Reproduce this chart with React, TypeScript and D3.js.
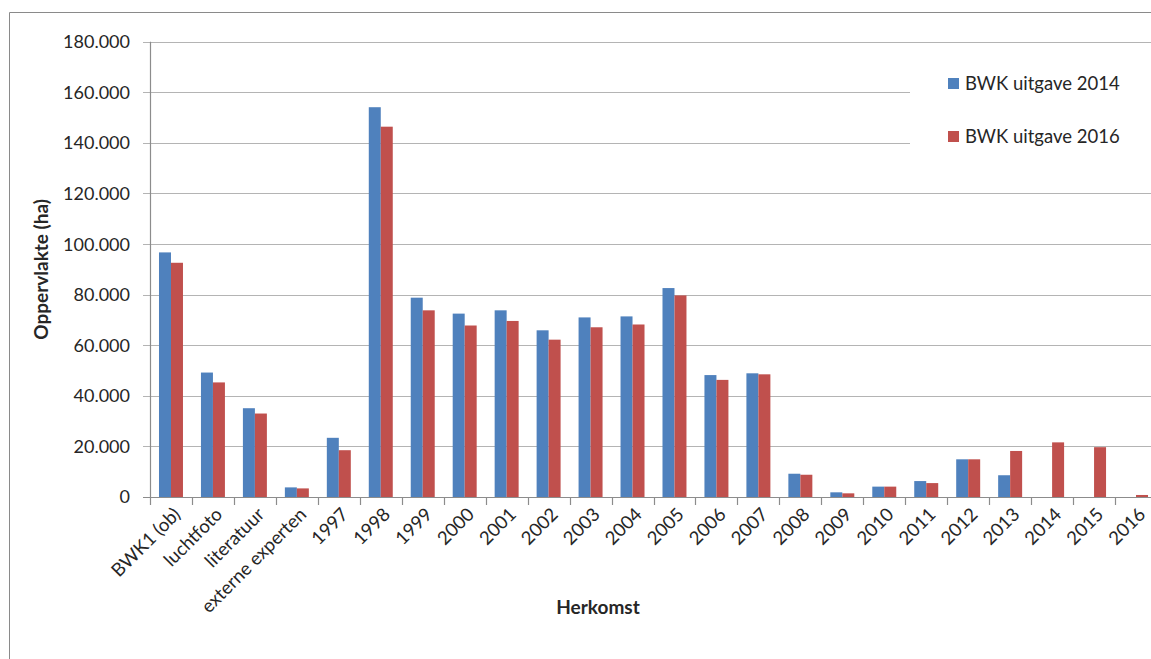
import React, { useEffect, useRef } from 'react';
import * as d3 from 'd3';

// Herkomst categories
const categories = [
  'BWK1 (ob)', 'luchtfoto', 'literatuur', 'externe experten',
  '1997', '1998', '1999', '2000', '2001', '2002', '2003', '2004', '2005',
  '2006', '2007', '2008', '2009', '2010', '2011', '2012', '2013', '2014', '2015', '2016'
];

// Oppervlakte (ha)
const values2014 = [
  96700, 49200, 35100, 3800,
  23400, 154100, 78800, 72500, 73800, 65900, 71000, 71400, 82600,
  48200, 48900, 9200, 1850, 4100, 6300, 14900, 8600, 0, 0, 0
];
const values2016 = [
  92600, 45300, 33000, 3400,
  18500, 146400, 73800, 67800, 69600, 62200, 67100, 68200, 79700,
  46300, 48500, 8800, 1450, 4100, 5500, 14900, 18200, 21600, 19700, 800
];

const seriesNames = ['BWK uitgave 2014', 'BWK uitgave 2016'];
const seriesColors = ['#4F81BD', '#C0504D'];
const yTicks = [0, 20000, 40000, 60000, 80000, 100000, 120000, 140000, 160000, 180000];

const W = 1151;
const H = 659;
const FONT = 'Lato, "Open Sans", sans-serif';

const App: React.FC = () => {
  const svgRef = useRef<SVGSVGElement>(null);

  useEffect(() => {
    if (!svgRef.current) return;
    const svg = d3.select(svgRef.current);
    svg.selectAll('*').remove();

    const left = 150;
    const right = 1157;
    const top = 41.7;
    const bottom = 497;

    const x = d3.scaleBand().domain(categories).range([left, right]).padding(0);
    const x1 = d3.scaleBand().domain(seriesNames).range([0, x.bandwidth()])
      .paddingInner(0).paddingOuter(0.75);
    const y = d3.scaleLinear().domain([0, 180000]).range([bottom, top]);

    // outer frame (only top and left edges are visible in the crop)
    svg.append('path')
      .attr('d', `M9.5,${H} V12.5 H${W}`)
      .attr('fill', 'none')
      .attr('stroke', '#8a8a8a').attr('stroke-width', 1);

    // gridlines + y ticks
    svg.append('g')
      .selectAll('line')
      .data(yTicks)
      .join('line')
      .attr('x1', left - 7).attr('x2', right)
      .attr('y1', d => Math.round(y(d)) + 0.5)
      .attr('y2', d => Math.round(y(d)) + 0.5)
      .attr('stroke', d => d === 0 ? '#8c8c8c' : '#b4b4b4')
      .attr('stroke-width', 1.2);

    svg.append('g')
      .selectAll('text')
      .data(yTicks)
      .join('text')
      .attr('x', 130)
      .attr('y', d => y(d))
      .attr('dy', '0.36em')
      .attr('text-anchor', 'end')
      .attr('font-family', FONT)
      .attr('font-size', '18px')
      .attr('fill', '#262626')
      .text(d => d === 0 ? '0' : d3.format(',')(d).replace(/,/g, '.'));

    // legend background hides gridlines behind it
    svg.append('rect')
      .attr('x', 910).attr('y', 52)
      .attr('width', 260).attr('height', 120)
      .attr('fill', 'white');

    // bars
    const groups = svg.append('g')
      .selectAll('g')
      .data(categories.map((c, i) => ({ c, vals: [values2014[i], values2016[i]] })))
      .join('g')
      .attr('transform', d => `translate(${x(d.c)},0)`);

    groups.selectAll('rect')
      .data(d => d.vals.map((v, i) => ({ v, s: seriesNames[i], color: seriesColors[i] })))
      .join('rect')
      .filter(d => d.v > 0)
      .attr('x', d => x1(d.s) || 0)
      .attr('y', d => y(d.v))
      .attr('width', x1.bandwidth())
      .attr('height', d => bottom - y(d.v))
      .attr('fill', d => d.color);

    // axis lines
    svg.append('line')
      .attr('x1', left + 0.5).attr('x2', left + 0.5)
      .attr('y1', top).attr('y2', bottom + 8)
      .attr('stroke', '#8c8c8c').attr('stroke-width', 1.2);

    svg.append('g')
      .selectAll('line')
      .data(categories.slice(1))
      .join('line')
      .attr('x1', d => Math.round(x(d) || 0) + 0.5)
      .attr('x2', d => Math.round(x(d) || 0) + 0.5)
      .attr('y1', bottom).attr('y2', bottom + 8)
      .attr('stroke', '#8c8c8c').attr('stroke-width', 1.2);

    // x tick labels rotated
    svg.append('g')
      .selectAll('text')
      .data(categories)
      .join('text')
      .attr('transform', d => `translate(${(x(d) || 0) + x.bandwidth() / 2 + 6}, ${bottom + 14}) rotate(-45)`)
      .attr('text-anchor', 'end')
      .attr('dy', '0.35em')
      .attr('font-family', FONT)
      .attr('font-size', '18.5px')
      .attr('fill', '#262626')
      .text(d => d);

    // axis titles
    svg.append('text')
      .attr('transform', `translate(48, ${(top + bottom) / 2}) rotate(-90)`)
      .attr('text-anchor', 'middle')
      .attr('font-family', FONT)
      .attr('font-size', '19px')
      .attr('font-weight', 'bold')
      .attr('fill', '#262626')
      .text('Oppervlakte (ha)');

    svg.append('text')
      .attr('x', 598)
      .attr('y', 614)
      .attr('text-anchor', 'middle')
      .attr('font-family', FONT)
      .attr('font-size', '19px')
      .attr('font-weight', 'bold')
      .attr('fill', '#262626')
      .text('Herkomst');

    // legend
    const legend = svg.append('g');
    seriesNames.forEach((name, i) => {
      const cy = 83.5 + i * 53;
      legend.append('rect')
        .attr('x', 948).attr('y', cy - 5.5)
        .attr('width', 11).attr('height', 11)
        .attr('fill', seriesColors[i]);
      legend.append('text')
        .attr('x', 965).attr('y', cy)
        .attr('dy', '0.36em')
        .attr('font-family', FONT)
        .attr('font-size', '18.5px')
        .attr('fill', '#262626')
        .text(name);
    });
  }, []);

  return (
    <svg
      ref={svgRef}
      width={W}
      height={H}
      style={{ position: 'absolute', left: 0, top: 0, background: 'white' }}
    />
  );
};

export default App;
